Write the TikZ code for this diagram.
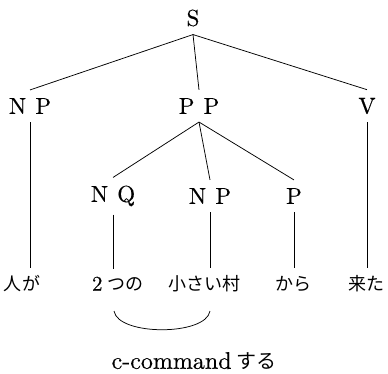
\documentclass[tikz,border=0pt]{standalone}
\usepackage{fontspec}
\newfontfamily\jp{Noto Sans CJK JP}
\newfontfamily\lat{lmroman10-regular.otf}[FakeBold=0.35]
\begin{document}
\begin{tikzpicture}[x=1pt,y=-1pt,
  cat/.style={font=\fontsize{23}{26}\selectfont\lat, inner xsep=0pt, inner ysep=8pt, anchor=center},
  word/.style={font=\fontsize{18}{22}\selectfont\jp, inner xsep=0pt, inner ysep=8pt, anchor=center},
  edge/.style={line width=0.75pt}]
\useasboundingbox (0,0) rectangle (388,374);
% category labels
\node[cat] (S)   at (193,18)  {S};
\node[cat] (NPa) at (30,106)  {N\hspace{0.4em}P};
\node[cat] (PP)  at (199,106) {P\hspace{0.4em}P};
\node[cat] (V)   at (367,106) {V};
\node[cat] (NQ)  at (113,196) {N\hspace{0.4em}Q};
\node[cat] (NPb) at (210,196) {N\hspace{0.4em}P};
\node[cat] (P)   at (294,196) {P};
% terminal words
\node[word] (w1) at (22,284)  {人が};
\node[word] (w2) at (118,284) {{\lat\fontsize{21}{24}\selectfont 2}\hspace{0.3em}つの};
\node[word] (w3) at (204,284) {小さい村};
\node[word] (w4) at (293,284) {から};
\node[word] (w5) at (366,284) {来た};
\node[font=\fontsize{24}{27}\selectfont\lat, inner sep=0pt] (cc) at (194,361)
  {c-command\hspace{0.2em}{\jp\fontsize{20}{22}\selectfont する}};
% branches
\draw[edge] (S.south) -- (NPa.north);
\draw[edge] (S.south) -- (PP.north);
\draw[edge] (S.south) -- (V.north);
\draw[edge] (PP.south) -- (NQ.north);
\draw[edge] (PP.south) -- (NPb.north);
\draw[edge] (PP.south) -- (P.north);
\draw[edge] (NPa.south) -- (NPa.south |- w1.north);
\draw[edge] (V.south) -- (V.south |- w5.north);
\draw[edge] (NQ.south) -- (NQ.south |- w2.north);
\draw[edge] (NPb.south) -- (NPb.south |- w3.north);
\draw[edge] (P.south) -- (P.south |- w4.north);
% c-command arc
\coordinate (a1) at (114,311);
\coordinate (a2) at (210,311);
\draw[edge] (a1) .. controls (118,336) and (206,336) .. (a2);
\end{tikzpicture}
\end{document}
